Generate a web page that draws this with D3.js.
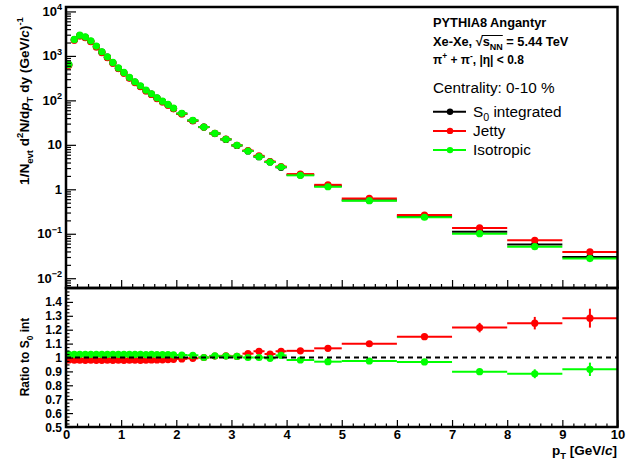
<!DOCTYPE html>
<html>
<head>
<meta charset="utf-8">
<script src="https://cdn.jsdelivr.net/npm/d3@7"></script>
<style>
  body { margin: 0; background: #fff; }
  svg { display: block; font-family: "Liberation Sans", Arial, sans-serif; }
</style>
</head>
<body>
<svg id="chart" width="638" height="461"></svg>
<script>
// pT bin edges (GeV/c)
const binEdges = [0, 0.1, 0.2, 0.3, 0.4, 0.5, 0.6, 0.7, 0.8, 0.9, 1.0, 1.1, 1.2, 1.3, 1.4, 1.5, 1.6, 1.7, 1.8, 1.9, 2.0,
  2.2, 2.4, 2.6, 2.8, 3.0, 3.2, 3.4, 3.6, 3.8, 4.0, 4.5, 5, 6, 7, 8, 9, 10];

// spectra, 1/Nevt d2N/dpTdy
const specInt = [630, 2300, 2870, 2630, 2135, 1625, 1215, 935, 700, 528, 417, 322, 256, 208, 166, 138, 112, 94, 79, 65.6,
  50.1, 35, 25.1, 17.9, 13.2, 9.67, 7.26, 5.41, 4.12, 3.12, 2.10, 1.18, 0.568, 0.245, 0.111, 0.057, 0.030];
const specJet = [619, 2256, 2815, 2577, 2094, 1593, 1190, 917, 686, 518, 409, 316, 251, 204, 163, 136, 110, 92.4, 77.8, 64.7,
  49.6, 34.8, 25.1, 18.1, 13.4, 9.75, 7.46, 5.65, 4.22, 3.26, 2.20, 1.26, 0.624, 0.264, 0.135, 0.0714, 0.039];
const specIso = [644, 2350, 2930, 2690, 2180, 1660, 1240, 955, 714, 540, 426, 329, 262, 213, 170, 141, 114, 96, 81, 67,
  51, 35.5, 25.1, 18.1, 13.3, 9.75, 7.26, 5.41, 4.10, 3.17, 2.06, 1.14, 0.554, 0.235, 0.1005, 0.0513, 0.0276];

// ratios to S0 integrated
const ratioJet = [0.982, 0.981, 0.981, 0.980, 0.981, 0.980, 0.980, 0.981, 0.980, 0.981, 0.980, 0.981, 0.981, 0.980, 0.981,
  0.982, 0.982, 0.983, 0.985, 0.987, 0.990, 0.994, 1.0, 1.010, 1.012, 1.008, 1.028, 1.045, 1.025, 1.045, 1.048, 1.066,
  1.099, 1.15, 1.215, 1.247, 1.283];
const ratioJetErr = [0, 0, 0, 0, 0, 0, 0, 0, 0, 0, 0, 0, 0, 0, 0, 0, 0, 0, 0, 0, 0, 0, 0, 0, 0, 0, 0, 0, 0, 0,
  0.004, 0.005, 0.006, 0.01, 0.034, 0.045, 0.068];
const ratioIso = [1.022, 1.022, 1.023, 1.022, 1.022, 1.023, 1.022, 1.022, 1.022, 1.023, 1.022, 1.022, 1.022, 1.022, 1.021,
  1.022, 1.021, 1.020, 1.020, 1.019, 1.018, 1.016, 1.0, 1.012, 1.010, 1.008, 1.0, 1.0, 0.994, 1.015, 0.982, 0.970,
  0.975, 0.968, 0.898, 0.883, 0.915];
const ratioIsoErr = [0, 0, 0, 0, 0, 0, 0, 0, 0, 0, 0, 0, 0, 0, 0, 0, 0, 0, 0, 0, 0, 0, 0, 0, 0, 0, 0, 0, 0, 0,
  0.003, 0.004, 0.005, 0.008, 0.016, 0.032, 0.048];

const logLabels = [-2, -1, 0, 1, 2, 3, 4];
const ratioLabels = [0.5, 0.6, 0.7, 0.8, 0.9, 1.0, 1.1, 1.2, 1.3, 1.4];
const xLabels = [0, 1, 2, 3, 4, 5, 6, 7, 8, 9, 10];

const colInt = "#000000";
const colJet = "#ff0000";
const colIso = "#00ff00";

const svg = d3.select("#chart");
const xL = 66, xR = 617.5, yTop = 7, yMid = 288, yBot = 427;

const x = d3.scaleLinear().domain([0, 10]).range([xL, xR]);
const ySpec = d3.scaleLog().domain([Math.pow(10, -2.22), Math.pow(10, 4.1)]).range([yMid, yTop]);
const yRatio = d3.scaleLinear().domain([0.5, 1.5]).range([yBot, yMid]);

const bins = binEdges.slice(0, -1).map((lo, i) => ({ lo, hi: binEdges[i + 1], c: (lo + binEdges[i + 1]) / 2 }));

// text with sub/superscripts, parts = "txt" | [txt, "sub"|"sup"|null, "i"]
const richText = (g, px, py, parts, size, opts = {}) => {
  const t = g.append("text")
    .attr("x", px).attr("y", py)
    .attr("font-size", size)
    .attr("font-weight", opts.bold ? "bold" : "normal")
    .attr("text-anchor", opts.anchor || "start");
  if (opts.rotate) t.attr("transform", `rotate(-90,${px},${py})`);
  let shift = 0;
  parts.forEach((p) => {
    const [txt, kind, style] = typeof p === "string" ? [p] : p;
    let target = 0;
    let fs = size;
    if (kind === "sub") { target = size * 0.3; fs = size * 0.7; }
    if (kind === "sup") { target = -size * 0.42; fs = size * 0.7; }
    const ts = t.append("tspan").attr("dy", target - shift).attr("font-size", fs).text(txt);
    if (style === "i") ts.attr("font-style", "italic");
    shift = target;
  });
  return t;
};

const drawSeries = (g, yScale, vals, errs, color) => {
  const pts = bins.map((b, i) => ({ ...b, v: vals[i], e: errs ? errs[i] : 0 }));
  g.selectAll(null).data(pts).enter().append("line")
    .attr("x1", (d) => x(d.lo)).attr("x2", (d) => x(d.hi))
    .attr("y1", (d) => yScale(d.v)).attr("y2", (d) => yScale(d.v))
    .attr("stroke", color).attr("stroke-width", 2);
  g.selectAll(null).data(pts.filter((d) => d.e > 0)).enter().append("line")
    .attr("x1", (d) => x(d.c)).attr("x2", (d) => x(d.c))
    .attr("y1", (d) => yScale(d.v - d.e)).attr("y2", (d) => yScale(d.v + d.e))
    .attr("stroke", color).attr("stroke-width", 2);
  g.selectAll(null).data(pts).enter().append("circle")
    .attr("cx", (d) => x(d.c)).attr("cy", (d) => yScale(d.v))
    .attr("r", 3.6).attr("fill", color);
};

// top panel data
const gTop = svg.append("g");
drawSeries(gTop, ySpec, specInt, null, colInt);
drawSeries(gTop, ySpec, specJet, null, colJet);
drawSeries(gTop, ySpec, specIso, null, colIso);

// ratio panel data
const gRat = svg.append("g");
drawSeries(gRat, yRatio, ratioJet, ratioJetErr, colJet);
drawSeries(gRat, yRatio, ratioIso, ratioIsoErr, colIso);
gRat.append("line")
  .attr("x1", x(0)).attr("x2", x(10))
  .attr("y1", yRatio(1)).attr("y2", yRatio(1))
  .attr("stroke", "#000").attr("stroke-width", 2).attr("stroke-dasharray", "5,4");

// ticks
const minorX = d3.range(0, 10.01, 0.2).filter((v) => Math.abs(v - Math.round(v)) > 0.01);
const tickAxis = (gen, ty) => {
  const g = svg.append("g").attr("transform", ty).call(gen);
  g.select(".domain").remove();
  g.selectAll("line").attr("stroke", "#000").attr("stroke-width", 1.2);
  return g;
};
tickAxis(d3.axisBottom(x).tickValues(xLabels).tickSize(-8).tickFormat(""), `translate(0,${yMid})`);
tickAxis(d3.axisBottom(x).tickValues(minorX).tickSize(-4).tickFormat(""), `translate(0,${yMid})`);
tickAxis(d3.axisBottom(x).tickValues(minorX).tickSize(-3.5).tickFormat(""), `translate(0,${yBot})`);
const xAx = tickAxis(d3.axisBottom(x).tickValues(xLabels).tickSize(-7).tickPadding(3)
  .tickFormat((d) => d), `translate(0,${yBot})`);
xAx.selectAll("text").attr("font-size", 13).attr("font-weight", "bold")
  .attr("font-family", "Liberation Sans, Arial, sans-serif");

const logMinor = [];
const logMajor = logLabels.map((e) => Math.pow(10, e));
d3.range(-3, 5).forEach((e) => {
  d3.range(2, 10).forEach((k) => {
    const v = k * Math.pow(10, e);
    if (v > ySpec.domain()[0] && v < ySpec.domain()[1]) logMinor.push(v);
  });
});
tickAxis(d3.axisRight(ySpec).tickValues(logMajor).tickSize(10).tickFormat(""), `translate(${xL},0)`);
tickAxis(d3.axisRight(ySpec).tickValues(logMinor).tickSize(5).tickFormat(""), `translate(${xL},0)`);

const ratioMinor = d3.range(0.5, 1.5, 0.025).filter((v) => Math.abs(v * 10 - Math.round(v * 10)) > 0.01);
tickAxis(d3.axisRight(yRatio).tickValues(ratioMinor).tickSize(3.5).tickFormat(""), `translate(${xL},0)`);
tickAxis(d3.axisRight(yRatio).tickValues(ratioLabels).tickSize(7).tickFormat(""), `translate(${xL},0)`);

// tick labels
const gLab = svg.append("g");
logLabels.forEach((e) => {
  const yy = ySpec(Math.pow(10, e)) + 4.5;
  let parts;
  if (e === 0) parts = ["1"];
  else if (e === 1) parts = ["10"];
  else parts = ["10", [e < 0 ? "\u2212" + -e : String(e), "sup"]];
  richText(gLab, 62, yy, parts, 13, { bold: true, anchor: "end" });
});
ratioLabels.forEach((v) => {
  gLab.append("text")
    .attr("x", 62).attr("y", yRatio(v) + 4.5)
    .attr("text-anchor", "end").attr("font-size", 12).attr("font-weight", "bold")
    .text(+v.toFixed(1));
});

// frames
svg.append("rect").attr("x", xL).attr("y", yTop).attr("width", xR - xL).attr("height", yMid - yTop)
  .attr("fill", "none").attr("stroke", "#000").attr("stroke-width", 2.5);
svg.append("rect").attr("x", xL).attr("y", yMid).attr("width", xR - xL).attr("height", yBot - yMid)
  .attr("fill", "none").attr("stroke", "#000").attr("stroke-width", 2.5);

// axis titles
richText(svg, 29, 101, ["1/N", ["evt", "sub"], " d", ["2", "sup"], "N/d", ["p", null, "i"], ["T", "sub"],
  " dy (GeV/", ["c", null, "i"], ")", ["-1", "sup"]], 13.6, { bold: true, anchor: "middle", rotate: true });
richText(svg, 29, 357, ["Ratio to S", ["0", "sub"], " int"], 12, { bold: true, anchor: "middle", rotate: true });
richText(svg, 617, 455, ["p", ["T", "sub"], " [GeV/", ["c", null, "i"], "]"], 13.5, { bold: true, anchor: "end" });

// header text
const gHead = svg.append("g");
richText(gHead, 433, 27, ["PYTHIA8 Angantyr"], 12.8, { bold: true });
const sq = richText(gHead, 433, 46, ["Xe-Xe, \u221A", "s", ["NN", "sub"], " = 5.44 TeV"], 12.8, { bold: true });
const sNode = sq.node();
const sqX1 = sNode.getStartPositionOfChar(8).x;
const sqX2 = sNode.getEndPositionOfChar(10).x;
gHead.append("line").attr("x1", sqX1 - 1).attr("x2", sqX2).attr("y1", 35.5).attr("y2", 35.5)
  .attr("stroke", "#000").attr("stroke-width", 1);
richText(gHead, 433, 64, ["\u03C0", ["+", "sup"], " + \u03C0", ["-", "sup"], ", |\u03B7| < 0.8"], 12, { bold: true });
richText(gHead, 433, 93, ["Centrality: 0-10 %"], 15.3);

// legend
const legendItems = [
  { parts: ["S", ["0", "sub"], " integrated"], color: colInt },
  { parts: ["Jetty"], color: colJet },
  { parts: ["Isotropic"], color: colIso },
];
legendItems.forEach((it, i) => {
  const ly = 111.7 + i * 19.2;
  gHead.append("line").attr("x1", 433).attr("x2", 466).attr("y1", ly).attr("y2", ly)
    .attr("stroke", it.color).attr("stroke-width", 2);
  gHead.append("circle").attr("cx", 450).attr("cy", ly).attr("r", 3.2).attr("fill", it.color);
  richText(gHead, 473, ly + 5, it.parts, 15.3);
});
</script>
</body>
</html>
